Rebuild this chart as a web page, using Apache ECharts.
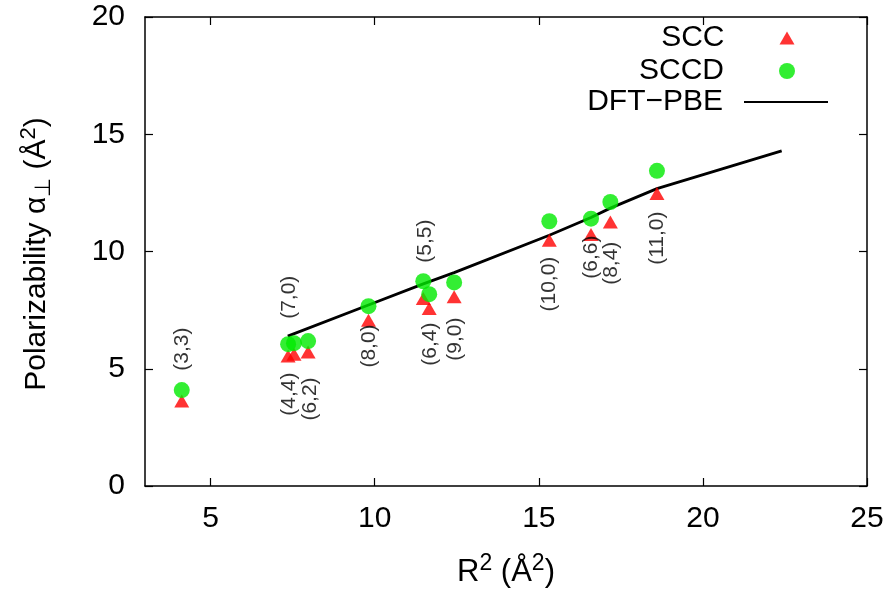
<!DOCTYPE html>
<html><head><meta charset="utf-8">
<script src="https://cdn.jsdelivr.net/npm/echarts@6/dist/echarts.min.js"></script>
<style>html,body{margin:0;padding:0;background:#fff}#c{width:893px;height:590px}</style>
</head><body><div id="c"></div>
<script>
// ---- data ----
const tubes = ['(3,3)','(4,4)','(7,0)','(6,2)','(8,0)','(5,5)','(6,4)','(9,0)','(10,0)','(6,6)','(8,4)','(11,0)'];
const r2    = [4.12, 7.36, 7.54, 7.97, 9.81, 11.48, 11.66, 12.42, 15.32, 16.59, 17.18, 18.6];
const scc   = [3.62, 5.54, 5.62, 5.71, 7.07, 8.00, 7.57, 8.07, 10.48, 10.72, 11.26, 12.47];
const sccd  = [4.09, 6.05, 6.09, 6.18, 7.67, 8.73, 8.18, 8.68, 11.29, 11.40, 12.11, 13.44];
const dftX  = [7.35, 9.81, 11.48, 12.42, 15.32, 16.59, 17.18, 18.6, 22.4];
const dftY  = [6.39, 7.72, 8.62, 9.10, 10.69, 11.45, 11.85, 12.68, 14.29];
// label anchor positions (data units)
const labelX = [4.13, 7.39, 7.39, 8.03, 9.83, 11.54, 11.69, 12.45, 15.32, 16.6, 17.2, 18.6];
const labelY = [5.84, 3.92, 8.05, 3.71, 5.97, 10.44, 6.05, 6.26, 8.61, 9.76, 9.5, 10.57];
const xTicks = [5, 10, 15, 20, 25];

const F = '"Liberation Sans", Arial, Helvetica, sans-serif';
const chart = echarts.init(document.getElementById('c'), null, {renderer: 'canvas'});
const tickStyle = {inside: true, length: 8, lineStyle: {color: '#000', width: 1.2}};
const lineStyle = {show: true, lineStyle: {color: '#000', width: 1.5}};
function xAx(pos, labels) {
  return {type: 'value', position: pos, min: 3, max: 25, gridIndex: 0,
    axisLine: Object.assign({onZero: false}, lineStyle),
    axisTick: Object.assign({customValues: xTicks}, tickStyle),
    axisLabel: {show: labels, customValues: xTicks, fontSize: 30, fontFamily: F, color: '#000', margin: 18},
    splitLine: {show: false}};
}
function yAx(pos, labels) {
  return {type: 'value', position: pos, min: 0, max: 20, interval: 5, gridIndex: 0,
    axisLine: Object.assign({onZero: false}, lineStyle),
    axisTick: tickStyle,
    axisLabel: {show: labels, fontSize: 30, fontFamily: F, color: '#000', margin: 20},
    splitLine: {show: false}};
}
const xMain = xAx('bottom', true);
xMain.name = 'R{sup|2} (Å{sup|2})';
xMain.nameLocation = 'middle';
xMain.nameGap = 66;
xMain.nameTextStyle = {fontSize: 31, fontFamily: F, color: '#000', lineHeight: 40,
  rich: {sup: {fontSize: 23, fontFamily: F, color: '#000', lineHeight: 40, padding: [0, 0, 16, 0]}}};
const yMain = yAx('left', true);
yMain.name = 'Polarizability α{sub|⊥} (Å{sup|2})';
yMain.nameLocation = 'middle';
yMain.nameGap = 88;
yMain.nameTextStyle = {fontSize: 30, fontFamily: F, color: '#000', lineHeight: 40, padding: [0, 5, 0, 0],
  rich: {sup: {fontSize: 22, fontFamily: F, color: '#000', padding: [0, 0, 16, 0]},
         sub: {fontSize: 22, fontFamily: F, color: '#000', padding: [14, 0, 0, 0]}}};

const legText = pad => ({fontSize: 30, fontFamily: F, color: '#000', padding: [0, pad, 0, 0]});
const option = {
  animation: false,
  backgroundColor: '#fff',
  grid: {left: 145, right: 26, top: 17, bottom: 104, containLabel: false, outerBoundsMode: 'none'},
  xAxis: [xMain, xAx('top', false)],
  yAxis: [yMain, yAx('right', false)],
  legend: [
    {orient: 'vertical', right: 98.5, top: 23, align: 'right', padding: 0,
     itemWidth: 15, itemHeight: 13, textStyle: legText(50), data: [{name: 'SCC'}]},
    {orient: 'vertical', right: 98, top: 56, align: 'right', padding: 0,
     itemWidth: 16, itemHeight: 16, textStyle: legText(50), data: [{name: 'SCCD'}]},
    {orient: 'vertical', right: 64, top: 87, align: 'right', padding: 0,
     itemWidth: 84, itemHeight: 16, textStyle: legText(16),
     data: [{name: 'DFT−PBE', itemStyle: {color: 'rgba(0,0,0,0)', opacity: 0}}]}
  ],
  series: [
    {name: 'DFT−PBE', type: 'line', symbol: 'none', data: dftX.map((x, i) => [x, dftY[i]]),
     lineStyle: {color: '#000', width: 2.8}, itemStyle: {color: '#000'}, z: 3},
    {name: 'SCC', type: 'scatter', symbol: 'triangle', symbolSize: [15, 13],
     data: r2.map((x, i) => [x, scc[i]]), itemStyle: {color: '#ff0000'}, z: 4},
    {name: 'SCCD', type: 'scatter', symbol: 'circle', symbolSize: 16,
     data: r2.map((x, i) => [x, sccd[i]]), itemStyle: {color: '#00ea00'}, z: 5},
    {name: 'labels', type: 'scatter', symbol: 'circle', symbolSize: 1, silent: true,
     data: tubes.map((t, i) => [labelX[i], labelY[i], t]),
     itemStyle: {color: 'rgba(0,0,0,0)'},
     label: {show: true, position: 'inside', rotate: 90, formatter: p => p.data[2],
       fontSize: 21, fontFamily: F, color: '#000'}, z: 6}
  ]
};
chart.setOption(option);
</script></body></html>
